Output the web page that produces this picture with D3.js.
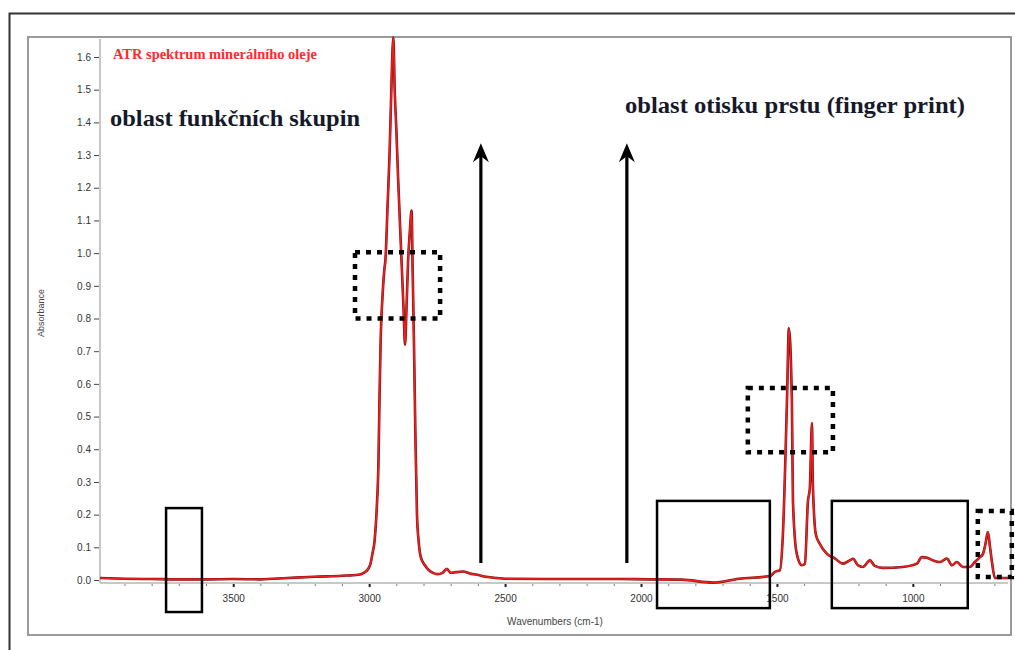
<!DOCTYPE html>
<html lang="cs">
	<head>
		<meta charset="utf-8">
		<title>ATR spektrum</title>
		<script src="https://d3js.org/d3.v7.min.js"></script>
		<style>
			body { margin: 0; background: #fff; }
			.tick text { font-family: "Liberation Sans", Arial, sans-serif; font-size: 10px; fill: #333; }
		</style>
	</head>
	<body>
		<div id="chart"></div>
		<script>
			// spectrum (wavenumber cm-1 -> absorbance)
			let wavenumbers = [3990, 3900, 3800, 3700, 3600, 3500, 3400, 3300, 3200, 3100, 3040, 3020, 3005,
				2995, 2988, 2980, 2972, 2966, 2962, 2958, 2950, 2944, 2940, 2932, 2925, 2919, 2914, 2911,
				2906, 2900, 2893, 2882, 2873, 2868, 2863, 2857, 2850, 2844, 2840, 2835, 2830, 2824, 2818,
				2810, 2795, 2780, 2765, 2750, 2730, 2714, 2700, 2680, 2655, 2630, 2603, 2570, 2530, 2500,
				2300, 2100, 1967, 1850, 1735, 1640, 1526, 1507, 1489, 1478, 1463, 1456, 1445, 1441, 1427,
				1408, 1397, 1386, 1379, 1371, 1368, 1357, 1342, 1316, 1287, 1257, 1232, 1220, 1202, 1184,
				1158, 1140, 1110, 1037, 985, 967, 948, 926, 900, 875, 856, 838, 816, 790, 772, 753, 742,
				733, 724, 716, 709, 698, 669, 650];
			let absorbance = [0.006, 0.004, 0.003, 0.002, 0.002, 0.003, 0.002, 0.006, 0.010, 0.013, 0.016, 0.022, 0.032,
				0.05, 0.08, 0.12, 0.22, 0.35, 0.55, 0.72, 0.88, 0.95, 0.98, 1.15, 1.30, 1.48, 1.62, 1.66,
				1.50, 1.38, 1.22, 1.00, 0.82, 0.72, 0.82, 0.97, 1.07, 1.13, 0.95, 0.72, 0.45, 0.20, 0.12,
				0.07, 0.045, 0.030, 0.022, 0.018, 0.022, 0.034, 0.022, 0.024, 0.026, 0.020, 0.016, 0.010, 0.006, 0.004,
				0.003, 0.003, 0.002, 0.001, -0.008, 0.004, 0.012, 0.025, 0.03, 0.14, 0.55, 0.77, 0.55, 0.24, 0.08,
				0.045, 0.05, 0.24, 0.28, 0.48, 0.30, 0.14, 0.11, 0.08, 0.066, 0.05, 0.06, 0.065, 0.045, 0.04,
				0.06, 0.043, 0.037, 0.04, 0.05, 0.07, 0.068, 0.06, 0.055, 0.066, 0.045, 0.055, 0.04, 0.04, 0.055,
				0.07, 0.08, 0.11, 0.147, 0.10, 0.055, 0.006, 0.006, 0.006];

			let yTicks = [0.0, 0.1, 0.2, 0.3, 0.4, 0.5, 0.6, 0.7, 0.8, 0.9, 1.0, 1.1, 1.2, 1.3, 1.4, 1.5, 1.6];
			let xTicks = [3500, 3000, 2500, 2000, 1500, 1000];
			let xMinorTicks = d3.range(3900, 650, -100);

			// annotations in data units: [wnLeft, wnRight, absTop, absBottom]
			let solidBoxes = [[3747, 3615, 0.22, -0.098], [1941, 1526, 0.242, -0.086], [1298, 798, 0.242, -0.086]];
			let dottedBoxes = [[3052, 2739, 1.003, 0.80], [1607, 1294, 0.587, 0.391], [761, 636, 0.211, 0.009]];
			let arrowWn = [2589, 2052];
			let arrowRange = [0.052, 1.336];

			let titleText = "ATR spektrum minerálního oleje";
			let leftLabel = "oblast funkčních skupin";
			let rightLabel = "oblast otisku prstu (finger print)";

			let width = 1015, height = 650;
			let plot = {left: 100, right: 1008, top: 37, zero: 580, axis: 583};

			let svg = d3.select("#chart").append("svg")
				.attr("width", width)
				.attr("height", height)
				.style("font-family", "'Liberation Sans', Arial, sans-serif");

			// frames
			svg.append("path")
				.attr("d", "M9.5," + height + "V13.5H" + width)
				.attr("fill", "none")
				.attr("stroke", "#333")
				.attr("stroke-width", 2);
			svg.append("rect")
				.attr("x", 28).attr("y", 37)
				.attr("width", 983).attr("height", 598)
				.attr("fill", "none")
				.attr("stroke", "#9a9a9a")
				.attr("stroke-width", 2);

			let x = d3.scaleLinear().domain([3990, 650]).range([plot.left, plot.right]);
			let y = d3.scaleLinear().domain([0, 1.6]).range([plot.zero, 57]);

			// axis lines (light grey like the instrument software)
			svg.append("line")
				.attr("x1", plot.left).attr("x2", plot.left)
				.attr("y1", plot.top + 2).attr("y2", plot.axis)
				.attr("stroke", "#c8c8c8").attr("stroke-width", 2);
			svg.append("line")
				.attr("x1", plot.left).attr("x2", plot.right)
				.attr("y1", plot.axis).attr("y2", plot.axis)
				.attr("stroke", "#c8c8c8").attr("stroke-width", 2);

			let yAxis = d3.axisLeft(y).tickValues(yTicks).tickSize(5).tickPadding(3)
				.tickFormat(d3.format(".1f"));
			let gy = svg.append("g").attr("transform", "translate(" + (plot.left - 1) + ",0)").call(yAxis);
			gy.select(".domain").remove();
			gy.selectAll(".tick line").attr("stroke", "#444");

			let gxMinor = svg.append("g").attr("transform", "translate(0," + (plot.axis + 1) + ")")
				.call(d3.axisBottom(x).tickValues(xMinorTicks).tickSize(2).tickFormat(""));
			gxMinor.select(".domain").remove();
			gxMinor.selectAll(".tick line").attr("stroke", "#777");

			let gx = svg.append("g").attr("transform", "translate(0," + (plot.axis + 1) + ")")
				.call(d3.axisBottom(x).tickValues(xTicks).tickSize(3).tickPadding(8).tickFormat(d3.format("d")));
			gx.select(".domain").remove();
			gx.selectAll(".tick line").attr("stroke", "#222").attr("stroke-width", 2);

			// axis titles
			svg.append("text")
				.attr("transform", "translate(44,313) rotate(-90)")
				.attr("text-anchor", "middle")
				.style("font-size", "9px")
				.attr("fill", "#444")
				.text("Absorbance");
			svg.append("text")
				.attr("x", 555).attr("y", 625)
				.attr("text-anchor", "middle")
				.style("font-size", "10px")
				.attr("fill", "#444")
				.text("Wavenumbers (cm-1)");

			// spectrum
			let spectrum = wavenumbers.map(function(d, i) { return {wn: d, a: absorbance[i]}; });
			let line = d3.line()
				.x(function(d) { return x(d.wn); })
				.y(function(d) { return y(d.a); })
				.curve(d3.curveMonotoneX);
			svg.append("path")
				.datum(spectrum)
				.attr("d", line)
				.attr("fill", "none")
				.attr("stroke", "#7a1010")
				.attr("stroke-width", 2.6);
			svg.append("path")
				.datum(spectrum)
				.attr("d", line)
				.attr("fill", "none")
				.attr("stroke", "#f01e1e")
				.attr("stroke-width", 1.6);

			// annotation boxes
			function box(sel, b) {
				return sel.append("rect")
					.attr("x", x(b[0]))
					.attr("y", y(b[2]))
					.attr("width", x(b[1]) - x(b[0]))
					.attr("height", y(b[3]) - y(b[2]))
					.attr("fill", "none")
					.attr("stroke", "#000");
			}
			solidBoxes.forEach(function(b) {
				box(svg, b).attr("stroke-width", 2.5);
			});
			dottedBoxes.forEach(function(b) {
				box(svg, b).attr("stroke-width", 4.5).attr("stroke-dasharray", "5,6");
			});

			// arrows
			arrowWn.forEach(function(wn) {
				let ax = x(wn), top = y(arrowRange[1]);
				svg.append("line")
					.attr("x1", ax).attr("x2", ax)
					.attr("y1", y(arrowRange[0])).attr("y2", top + 10)
					.attr("stroke", "#000").attr("stroke-width", 3.2);
				svg.append("path")
					.attr("d", "M" + ax + "," + top + "L" + (ax - 8) + "," + (top + 19) + "L" + ax + "," + (top + 13)
						+ "L" + (ax + 8) + "," + (top + 19) + "Z")
					.attr("fill", "#000");
			});

			// texts (widths matched to the picture)
			function serifLabel(tx, ty, size, len, colour, txt) {
				return svg.append("text")
					.attr("x", tx).attr("y", ty)
					.attr("textLength", len)
					.attr("lengthAdjust", "spacingAndGlyphs")
					.style("font-family", "'Liberation Serif', 'Times New Roman', serif")
					.style("font-size", size + "px")
					.style("font-weight", "bold")
					.attr("fill", colour)
					.text(txt);
			}
			serifLabel(113, 59, 14, 204, "#ff2a2a", titleText);
			serifLabel(x(3953), y(1.39), 24, 250, "#151a2a", leftLabel);
			serifLabel(x(2059), y(1.428), 24, 340, "#151a2a", rightLabel);
		</script>
	</body>
</html>
